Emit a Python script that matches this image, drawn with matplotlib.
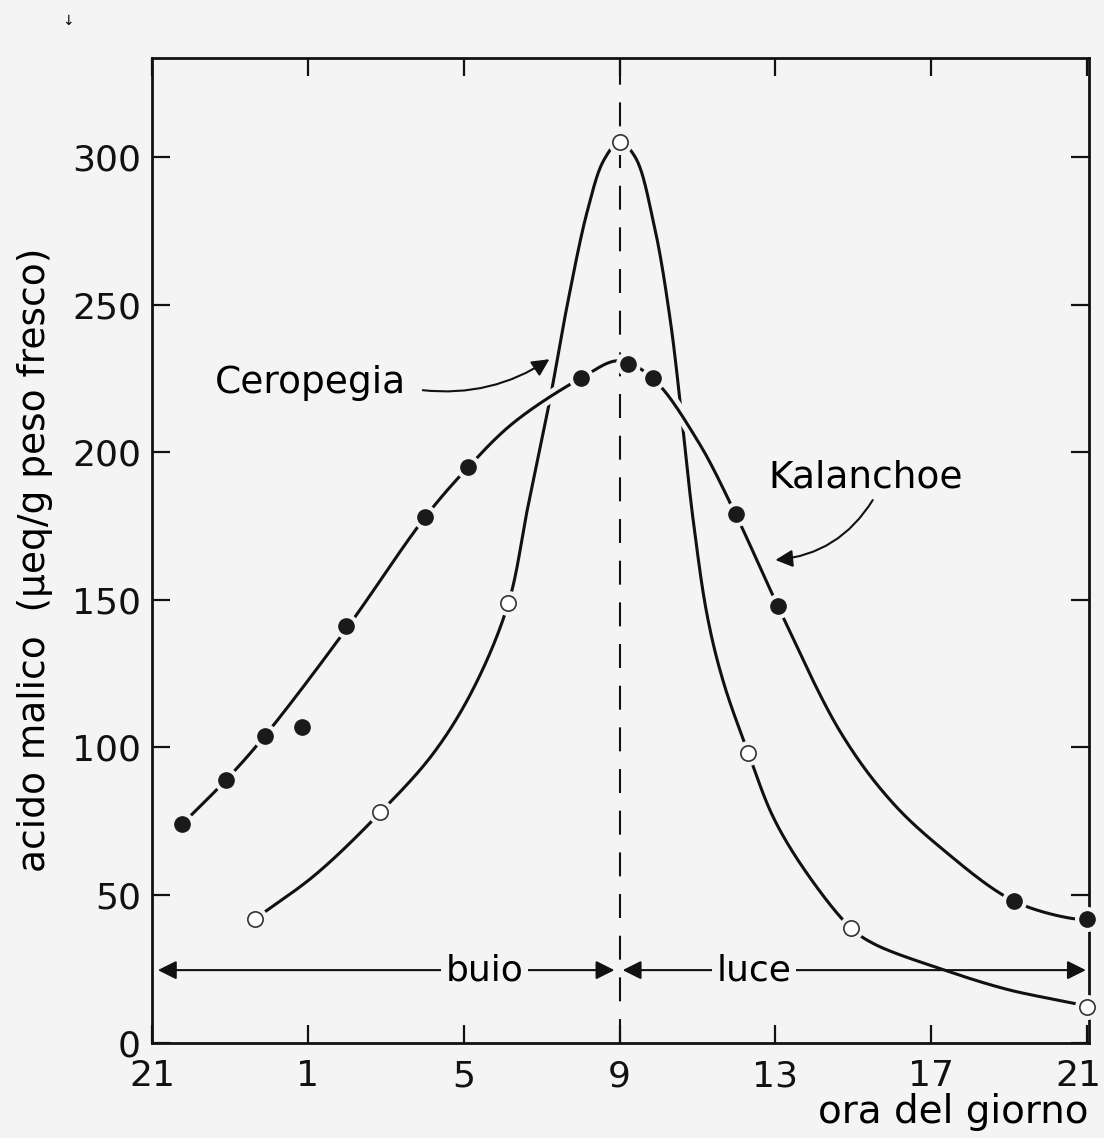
import numpy as np
import matplotlib
matplotlib.use("Agg")
import matplotlib.pyplot as plt
from matplotlib.transforms import ScaledTranslation

# hours counted from 21:00 (0 = 21h, 12 = 9h, 24 = 21h)
tick_pos = [0, 4, 8, 12, 16, 20, 24]
tick_labels = ["21", "1", "5", "9", "13", "17", "21"]
y_ticks = [0, 50, 100, 150, 200, 250, 300]

# measured points
kal_h = [0.77, 1.90, 2.90, 3.85, 4.98, 7.01, 8.12, 11.0, 12.23, 12.85, 14.98, 16.06, 22.12, 24.0]
kal_v = [74, 89, 104, 107, 141, 178, 195, 225, 230, 225, 179, 148, 48, 42]
cer_h = [2.65, 5.86, 9.15, 12.0, 15.31, 17.93, 24.0]
cer_v = [42, 78, 149, 305, 98, 39, 12]

# hand traced fitted curves
kal_curve_h = [0.77, 1.90, 2.90, 4.98, 7.01, 8.12, 9.28, 11.0, 12.0, 12.85,
               14.0, 14.98, 16.06, 17.68, 18.96, 20.25, 22.12, 23.66, 24.0]
kal_curve_v = [74, 89, 104, 140, 178, 195, 210, 225, 231, 225,
               204, 179, 148, 105, 82, 66, 48, 42, 42]
cer_curve_h = [2.65, 4.2, 5.86, 7.22, 8.25, 9.15, 9.64, 10.23, 10.66, 11.18, 11.6,
               12.0, 12.4, 12.87, 13.31, 13.9, 14.26, 14.67, 15.31,
               15.96, 16.83, 17.93, 18.53, 20.25, 21.97, 23.77, 24.0]
cer_curve_v = [42, 57, 78, 98, 120, 149, 181, 219, 250, 282, 299,
               305, 300, 278, 244, 176, 144, 122, 98,
               76, 57, 39, 33.5, 25, 18, 13, 12]

BG = "#f4f4f4"
INK = "#111111"


def smooth(xs, ys, n=24, sx=13.18):
    # centripetal catmull-rom through the traced points (only for drawing)
    p = np.column_stack([np.asarray(xs, float) * sx, np.asarray(ys, float)])
    p = np.vstack([2 * p[0] - p[1], p, 2 * p[-1] - p[-2]])
    out = []
    for i in range(1, len(p) - 2):
        p0, p1, p2, p3 = p[i - 1], p[i], p[i + 1], p[i + 2]
        t0 = 0.0
        t1 = t0 + np.linalg.norm(p1 - p0) ** 0.5
        t2 = t1 + np.linalg.norm(p2 - p1) ** 0.5
        t3 = t2 + np.linalg.norm(p3 - p2) ** 0.5
        t = np.linspace(t1, t2, n, endpoint=False)[:, None]
        a1 = (t1 - t) / (t1 - t0) * p0 + (t - t0) / (t1 - t0) * p1
        a2 = (t2 - t) / (t2 - t1) * p1 + (t - t1) / (t2 - t1) * p2
        a3 = (t3 - t) / (t3 - t2) * p2 + (t - t2) / (t3 - t2) * p3
        b1 = (t2 - t) / (t2 - t0) * a1 + (t - t0) / (t2 - t0) * a2
        b2 = (t3 - t) / (t3 - t1) * a2 + (t - t1) / (t3 - t1) * a3
        out.append((t2 - t) / (t2 - t1) * b1 + (t - t1) / (t2 - t1) * b2)
    out.append(p[-2][None, :])
    out = np.vstack(out)
    return out[:, 0] / sx, out[:, 1]


plt.rcParams["font.family"] = ["DejaVu Sans"]
fig = plt.figure(figsize=(11.04, 11.38), dpi=100, facecolor=BG)
ax = fig.add_axes([0.1377, 0.0837, 0.8487, 0.8653])
ax.set_facecolor(BG)

ax.axvline(12, color=INK, lw=1.5, ls=(0, (11.5, 8.5)), zorder=1)

cx, cy = smooth(cer_curve_h, cer_curve_v)
ax.plot(cx, cy, color=INK, lw=2.2, zorder=2, solid_capstyle="butt")

kx, ky = smooth(kal_curve_h, kal_curve_v)
ax.plot(kx, ky, color=BG, lw=9, zorder=3)
ax.plot(kx, ky, color=INK, lw=2.2, zorder=4, solid_capstyle="butt")

# gaps around the markers
ax.plot(kal_h, kal_v, "o", ms=17, color=BG, zorder=5, clip_on=False)
ax.plot(cer_h, cer_v, "o", ms=17, color=BG, zorder=5, clip_on=False)
ax.plot(kal_h, kal_v, "o", ms=11, color="#1a1a1a", zorder=6, clip_on=False)
ax.plot(cer_h, cer_v, "o", ms=11, mfc="white", mec="#333333", mew=1.2, zorder=6, clip_on=False)

# buio / luce
ap = dict(arrowstyle="<|-|>", lw=1.5, color=INK, mutation_scale=28, shrinkA=0, shrinkB=0)
ax.annotate("", xy=(0.15, 24.6), xytext=(11.87, 24.6), arrowprops=ap)
ax.annotate("", xy=(12.08, 24.6), xytext=(23.97, 24.6), arrowprops=ap)
tb = dict(facecolor=BG, edgecolor="none", pad=3)
ax.text(8.53, 24.6, "buio", fontsize=26, ha="center", va="center", bbox=tb, zorder=7)
ax.text(15.45, 24.6, "luce", fontsize=26, ha="center", va="center", bbox=tb, zorder=7)

# labels of the curves
ax.text(1.62, 223.5, "Ceropegia", fontsize=27, ha="left", va="center")
ax.annotate("", xy=(10.2, 231.5), xytext=(6.95, 221),
            arrowprops=dict(arrowstyle="-|>", lw=1.5, color=INK, mutation_scale=26,
                            shrinkA=0, shrinkB=0, connectionstyle="arc3,rad=0.18"))
ax.text(15.83, 191.3, "Kalanchoe", fontsize=27, ha="left", va="center")
ax.annotate("", xy=(16.0, 163.5), xytext=(18.5, 183.8),
            arrowprops=dict(arrowstyle="-|>", lw=1.5, color=INK, mutation_scale=26,
                            shrinkA=0, shrinkB=0, connectionstyle="arc3,rad=-0.25"))

ax.set_xlim(0, 24.05)
ax.set_ylim(0, 333.5)
ax.set_xticks(tick_pos)
ax.set_xticklabels(tick_labels)
ax.set_yticks(y_ticks)
ax.tick_params(direction="in", length=13, width=1.6, labelsize=26, pad=8,
               top=True, right=True, colors=INK)
ax.tick_params(axis="x", pad=12)
for s in ax.spines.values():
    s.set_linewidth(2)
    s.set_color(INK)

# last "21" sits at the edge of the page, pull it in a little
last = ax.get_xticklabels()[-1]
last.set_transform(last.get_transform() + ScaledTranslation(-6 / 72, 0, fig.dpi_scale_trans))

ax.set_ylabel("acido malico  (μeq/g peso fresco)", fontsize=27)
ax.yaxis.set_label_coords(-0.106, 0.49)
ax.set_xlabel("ora del giorno", fontsize=28, loc="right", labelpad=0)

fig.text(0.062, 0.982, "↓", fontsize=10, ha="center", va="center")

fig.savefig("out.png", dpi=100, facecolor=BG)
